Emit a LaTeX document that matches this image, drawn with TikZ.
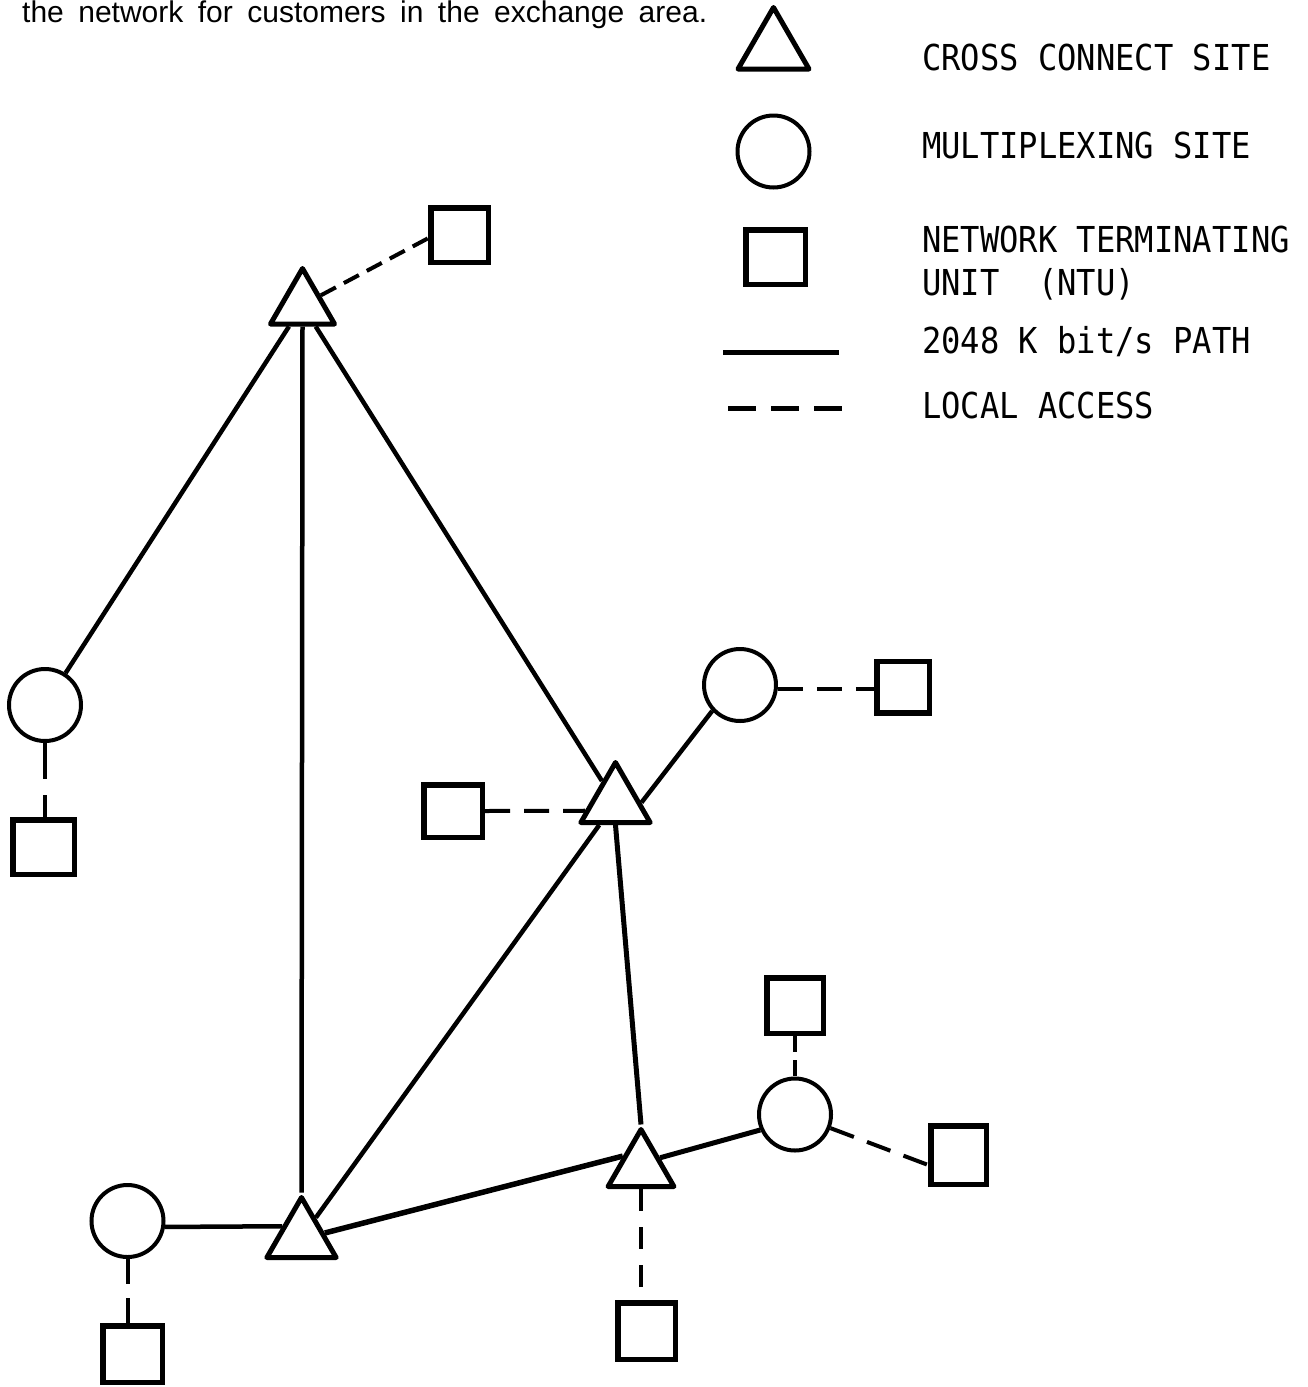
\documentclass[tikz,border=0pt]{standalone}
\usepackage{fontspec}
\setmainfont{Liberation Sans}
\newfontfamily\legfont{DejaVu Sans Mono}[FakeStretch=0.9]
\usetikzlibrary{shapes.geometric}
\begin{document}
\begin{tikzpicture}[x=1pt,y=-1pt]
\tikzset{
  cc/.style={regular polygon, regular polygon sides=3, draw, fill=white, line width=5pt, line join=round, inner sep=0pt, minimum size=#1},
  mux/.style={circle, draw, fill=white, line width=4pt, inner sep=0pt, minimum size=72pt},
  ntu/.style 2 args={rectangle, draw, fill=white, line width=5.5pt, inner sep=0pt, minimum width=#1pt, minimum height=#2pt},
  pathline/.style={line width=4.5pt},
  access/.style={line width=4pt, dash pattern=on 25pt off 14pt},
  legtext/.style={anchor=base west, inner sep=0pt, font=\legfont\fontsize{35.7}{40}\selectfont},
}
\fill[white] (0,0) rectangle (1307,1387);
\useasboundingbox (0,0) rectangle (1307,1387);

% caption fragment at the top
\node[anchor=base west, inner sep=0pt, font=\fontsize{30}{32}\selectfont] (cap) at (22,22.5)
  {\makebox[685pt][s]{the network for customers in the exchange area.}};

% ---------- legend ----------
\node[cc=82pt] (LT) at (773.5,48.5) {};
\node[mux] (LC) at (773.5,151.5) {};
\node[ntu={59.5}{54.5}] (LS) at (775.5,257) {};
\coordinate (La) at (723,352);
\coordinate (Lb) at (839,352);
\coordinate (Lc) at (728,408);
\coordinate (Ld) at (842,408);
\draw[line width=5pt] (La) -- (Lb);
\draw[line width=5pt, dash pattern=on 28pt off 15pt] (Lc) -- (Ld);
\node[legtext] (t1) at (922,70) {CROSS CONNECT SITE};
\node[legtext] (t2) at (922,158) {MULTIPLEXING SITE};
\node[legtext] (t3) at (922,252) {NETWORK TERMINATING};
\node[legtext] (t4) at (922,295) {UNIT\ \ (NTU)};
\node[legtext] (t5) at (922,353) {2048 K bit/s PATH};
\node[legtext] (t6) at (922,418) {LOCAL ACCESS};

% ---------- network nodes ----------
\node[cc=74pt] (T1) at (302.5,305.5) {};
\node[cc=80pt] (T2) at (615.5,802.5) {};
\node[cc=80pt] (T4) at (301.5,1237.5) {};
\node[cc=76pt] (T5) at (641,1167.5) {};

\node[mux] (C1) at (45,705) {};
\node[mux] (C2) at (740,685) {};
\node[mux] (C3) at (127.5,1221) {};
\node[mux] (C4) at (795,1114.5) {};

\node[ntu={57.5}{54.5}] (S1) at (459.5,235) {};
\node[ntu={61.5}{54.5}] (S2) at (43.5,847) {};
\node[ntu={58.5}{52.5}] (S3) at (453,811) {};
\node[ntu={52.5}{51.5}] (S4) at (903,687) {};
\node[ntu={59.5}{56.5}] (S5) at (132.5,1354) {};
\node[ntu={57.5}{56.5}] (S6) at (646.5,1331) {};
\node[ntu={56.5}{55.5}] (S7) at (795,1005.5) {};
\node[ntu={55.5}{58.5}] (S8) at (958.5,1155) {};

% ---------- 2048 kbit/s paths ----------
\draw[pathline] (T1) -- (C1);
\draw[pathline] (T1.270) -- (T4.90);
\draw[pathline] (T1) -- (T2);
\draw[pathline] (T4) -- (T2);
\draw[pathline, line width=5pt] (T2.270) -- (T5.90);
\draw[pathline] (T2.0) -- (C2.223);
\draw[pathline] (C3.-9) -- (T4.150);
\draw[pathline, line width=5.5pt] (T4.11) -- (T5.148);
\draw[pathline, line width=5pt] (T5.27) -- (C4.204);

% ---------- local access ----------
\draw[access, dash pattern=on 17pt off 9pt] (T1.29) -- (S1.186);
\draw[access, dash pattern=on 36pt off 16pt] (C1.270) -- (C1.270 |- S2.north);
\draw[access] (S3.east) -- (T2.195);
\draw[access] (C2.-6) -- (C2.-6 -| S4.west);
\draw[access] (C3.270) -- (C3.270 |- S5.north);
\draw[access, dash pattern=on 22pt off 16pt] (T5.270) -- (T5.270 |- S6.north);
\draw[access, dash pattern=on 16pt off 8pt] (S7.south) -- (C4.90);
\draw[access] (C4.-21) -- (S8.198);
\end{tikzpicture}
\end{document}
